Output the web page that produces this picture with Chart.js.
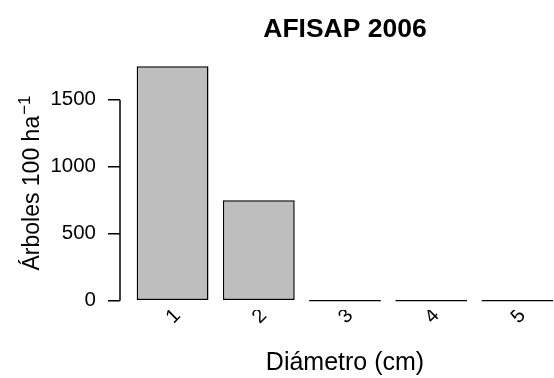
<!DOCTYPE html>
<html lang="es">
<head>
<meta charset="UTF-8">
<title>AFISAP 2006</title>
<script src="https://cdn.jsdelivr.net/npm/chart.js"></script>
<style>
  html, body { margin: 0; padding: 0; background: #fff; overflow: hidden; }
  /* plot region runs a little past the right edge, like the R original */
  .wrap { position: relative; width: 580px; height: 378px; }
</style>
</head>
<body>
<div class="wrap"><canvas id="barChart"></canvas></div>
<script>
const categories = ['1', '2', '3', '4', '5'];
const trees = [1750, 750, 0, 0, 0];
const yTicks = [0, 500, 1000, 1500];
const chartTitle = 'AFISAP 2006';
const xTitle = 'Diámetro (cm)';
const yTitle = 'Árboles 100 ha';
const yTitleSup = '\u22121';

// barplot midpoints (width 1, space 0.2)
const mids = categories.map((_, i) => 0.7 + 1.2 * i);

Chart.defaults.font.family = '"Liberation Sans", Arial, sans-serif';
Chart.defaults.color = '#000';

// titles + the short y axis line (0..1500 only)
const extras = {
  id: 'extras',
  afterDraw(chart) {
    const { ctx, chartArea } = chart;
    const ys = chart.scales.y;
    const cx = (chartArea.left + chartArea.right) / 2;
    const cy = (chartArea.top + chartArea.bottom) / 2;
    ctx.save();
    ctx.strokeStyle = '#000';
    ctx.lineWidth = 1.5;
    ctx.beginPath();
    ctx.moveTo(ys.right, ys.getPixelForValue(yTicks[0]));
    ctx.lineTo(ys.right, ys.getPixelForValue(yTicks[yTicks.length - 1]));
    ctx.stroke();

    ctx.fillStyle = '#000';
    ctx.textAlign = 'center';
    ctx.textBaseline = 'alphabetic';
    ctx.font = 'bold 26.5px "Liberation Sans"';
    ctx.fillText(chartTitle, cx, 37);
    ctx.font = '25px "Liberation Sans"';
    ctx.fillText(xTitle, cx, 370);

    ctx.translate(39, cy);
    ctx.rotate(-Math.PI / 2);
    ctx.textAlign = 'left';
    ctx.font = '23px "Liberation Sans"';
    const w1 = ctx.measureText(yTitle).width;
    ctx.font = '17px "Liberation Sans"';
    const w2 = ctx.measureText(yTitleSup).width;
    const start = -(w1 + w2) / 2;
    ctx.font = '23px "Liberation Sans"';
    ctx.fillText(yTitle, start, 0);
    ctx.font = '17px "Liberation Sans"';
    ctx.fillText(yTitleSup, start + w1 + 1, -9);
    ctx.restore();
  }
};

new Chart(document.getElementById('barChart'), {
  type: 'bar',
  data: {
    datasets: [{
      data: mids.map((x, i) => ({ x: x, y: trees[i] })),
      backgroundColor: '#bebebe',
      borderColor: '#000',
      borderWidth: 1.5,
      borderSkipped: false,
      minBarLength: 1.5,
      barPercentage: 1 / 1.2,
      categoryPercentage: 1
    }]
  },
  options: {
    responsive: true,
    maintainAspectRatio: false,
    animation: false,
    layout: { padding: { top: 57, right: 10, bottom: 0, left: 0 } },
    plugins: { legend: { display: false }, tooltip: { enabled: false } },
    scales: {
      x: {
        type: 'linear',
        offset: false,
        min: -0.032,
        max: 6.232,
        afterBuildTicks: s => { s.ticks = mids.map(v => ({ value: v })); },
        afterFit: s => { s.height = 68; },
        grid: { display: false, offset: false },
        border: { display: false },
        ticks: {
          minRotation: 45,
          maxRotation: 45,
          padding: -14,
          labelOffset: 5,
          font: { size: 20 },
          callback: (v, i) => categories[i]
        }
      },
      y: {
        min: -70,
        max: 1820,
        afterBuildTicks: s => { s.ticks = yTicks.map(v => ({ value: v })); },
        afterFit: s => { s.width = 120; },
        grid: { drawOnChartArea: false, tickLength: 12, color: '#000', lineWidth: 1.5 },
        border: { display: false },
        ticks: { padding: 12, font: { size: 20.5 }, callback: v => String(v) }
      }
    }
  },
  plugins: [extras]
});
</script>
</body>
</html>
